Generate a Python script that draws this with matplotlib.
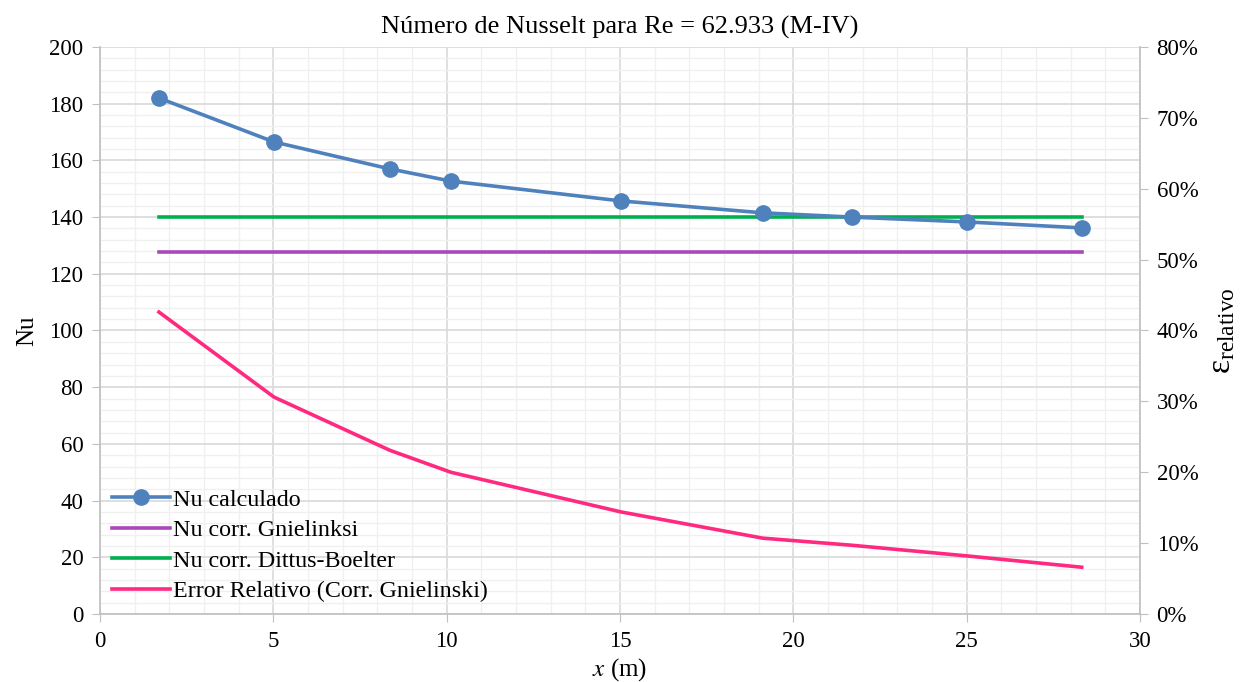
import matplotlib.pyplot as plt
from matplotlib.ticker import MultipleLocator, PercentFormatter

plt.rcParams['font.family'] = ['Liberation Serif', 'DejaVu Serif']
plt.rcParams['mathtext.fontset'] = 'stix'

# data
x_pos = [1.70, 5.02, 8.36, 10.12, 15.03, 19.12, 21.69, 25.0, 28.32]
nu_calc = [182.0, 166.5, 157.0, 152.7, 145.7, 141.5, 140.0, 138.3, 136.2]
nu_gniel = [127.7] * 9
nu_dittus = [140.0] * 9
err_rel = [42.6, 30.6, 23.1, 20.0, 14.4, 10.7, 9.7, 8.2, 6.6]

fig = plt.figure(figsize=(12.52, 6.82), dpi=100)
ax = fig.add_axes([0.0799, 0.0997, 0.8306, 0.8314])
ax2 = ax.twinx()

grid_major = '#d9d9d9'
grid_minor = '#f0f0f0'

ax.plot(x_pos, nu_calc, color='#4f81bd', lw=2.6, marker='o', ms=11,
        label='Nu calculado', zorder=5)
ax.plot(x_pos, nu_gniel, color='#ab47bc', lw=2.6, label='Nu corr. Gnielinksi', zorder=4)
ax.plot(x_pos, nu_dittus, color='#00b050', lw=2.6, label='Nu corr. Dittus-Boelter', zorder=4)
ax2.plot(x_pos, err_rel, color='#ff2a80', lw=2.6, label='Error Relativo (Corr. Gnielinski)')

ax.set_xlim(0, 30)
ax.set_ylim(0, 200)
ax2.set_ylim(0, 80)

ax.xaxis.set_major_locator(MultipleLocator(5))
ax.xaxis.set_minor_locator(MultipleLocator(1))
ax.yaxis.set_major_locator(MultipleLocator(20))
ax.yaxis.set_minor_locator(MultipleLocator(4))
ax2.yaxis.set_major_locator(MultipleLocator(10))
ax2.yaxis.set_major_formatter(PercentFormatter(decimals=0))

ax.grid(which='major', color=grid_major, lw=1.2, zorder=0)
ax.grid(which='minor', color=grid_minor, lw=1.0, zorder=0)
ax.set_axisbelow(True)

for a in (ax, ax2):
    a.spines['top'].set_visible(False)
    for s in ['left', 'bottom', 'right']:
        a.spines[s].set_color('#bfbfbf')
        a.spines[s].set_linewidth(1.2)
    a.tick_params(which='major', length=6, color='#bfbfbf', labelsize=16.5, pad=6)
    a.tick_params(which='minor', length=0)
ax2.spines['left'].set_visible(False)
ax2.spines['bottom'].set_visible(False)
ax.spines['right'].set_visible(False)

ax.set_title('Número de Nusselt para Re = 62.933 (M-IV)', fontsize=19, pad=10)
ax.set_xlabel('$x$ (m)', fontsize=18, labelpad=3)
ax.set_ylabel('Nu', fontsize=18, labelpad=8)
ax2.set_ylabel(r'$\mathregular{ε_{relativo}}$', fontsize=24, labelpad=6)

h1, l1 = ax.get_legend_handles_labels()
h2, l2 = ax2.get_legend_handles_labels()
leg = ax2.legend(h1 + h2, l1 + l2, loc='lower left', bbox_to_anchor=(0.0, 0.0),
                 frameon=False, fontsize=17.3, handlelength=2.4, handletextpad=0.15,
                 labelspacing=0.36, borderaxespad=0.3, borderpad=0.2)

fig.savefig('out.png', dpi=100)
